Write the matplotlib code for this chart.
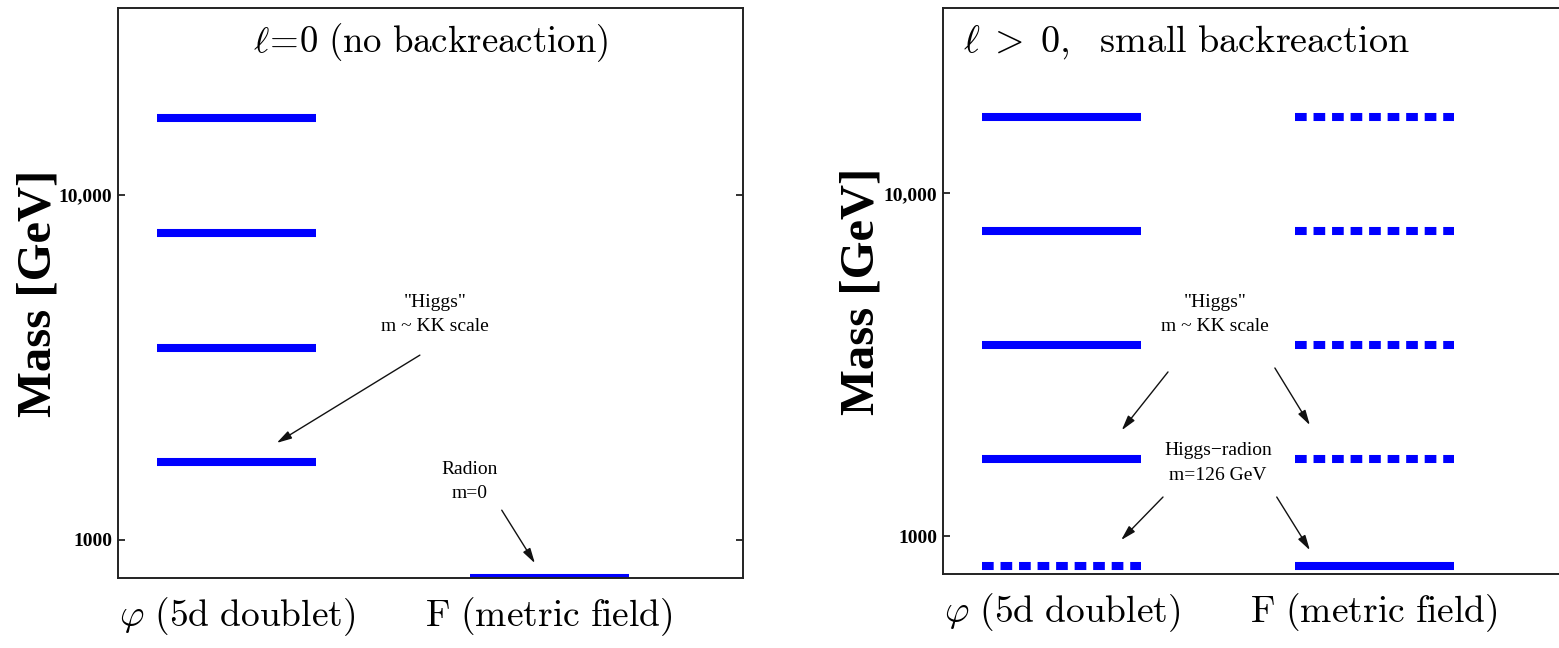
import matplotlib
matplotlib.use("Agg")
import matplotlib.pyplot as plt
from matplotlib.ticker import FixedLocator, NullLocator

plt.rcParams["mathtext.fontset"] = "cm"

# Mass spectrum values (GeV)
kk_levels = [1680, 3600, 7750, 16700]          # KK tower of the 5d doublet / metric field
radion_mass = 776                               # massless radion, pinned to axis floor
higgs_radion_mass = 818                         # light Higgs-radion state
y_limits = [776, 34700]
y_ticks = [1000, 10000]
y_tick_labels = ["1000", "10,000"]
sector_labels = [r"$\varphi\ \mathrm{(5d\ doublet)}$", r"$\mathrm{F\ (metric\ field)}$"]
sector_centers = [0.19, 0.69]
level_halfwidth = 0.127
panel_titles = [r"$\ell\!=\!0\ \mathrm{(no\ backreaction)}$",
                r"$\ell\;>\;0,\ \ \mathrm{small\ backreaction}$"]

BLUE = "#0000ff"
LW = 5.8
DASH = (0, (1.45, 0.85))
W, H = 1559, 648
fig = plt.figure(figsize=(W / 100, H / 100), dpi=100)

def px_axes(x0, x1, y0, y1):
    return fig.add_axes([x0 / W, 1 - y1 / H, (x1 - x0) / W, (y1 - y0) / H])

ax1 = px_axes(118, 743, 8, 578)
ax2 = px_axes(943, 1568, 8, 574)

def level(ax, center, mass, dashed=False):
    ls = DASH if dashed else "-"
    ax.plot([center - level_halfwidth, center + level_halfwidth], [mass, mass],
            color=BLUE, lw=LW, ls=ls, solid_capstyle="butt", dash_capstyle="butt")

def style(ax, title, tx, tsize, lpad):
    ax.set_yscale("log")
    ax.set_xlim(0, 1)
    ax.set_ylim(*y_limits)
    ax.yaxis.set_major_locator(FixedLocator(y_ticks))
    ax.yaxis.set_minor_locator(NullLocator())
    ax.set_yticklabels(y_tick_labels, fontfamily="Liberation Serif",
                       fontweight="bold", fontsize=14)
    ax.tick_params(axis="y", which="major", direction="in", length=5, width=1.3,
                   left=True, right=True, pad=4, color="#222222")
    ax.set_xticks(sector_centers)
    ax.set_xticklabels(sector_labels, fontsize=27)
    ax.tick_params(axis="x", length=0, pad=12)
    ax.set_ylabel("Mass [GeV]", fontfamily="Liberation Serif", fontweight="bold",
                  fontsize=35, labelpad=lpad)
    for s in ax.spines.values():
        s.set_linewidth(1.4)
        s.set_color("#222222")
    ax.text(tx, 0.94, title, transform=ax.transAxes, ha="center", va="center",
            fontsize=tsize)

def note(ax, x, y, s):
    ax.text(x, y, s, transform=ax.transAxes, ha="center", va="center",
            fontfamily="Liberation Serif", fontsize=14, linespacing=1.55)

def arrow(ax, tail, tip):
    ax.annotate("", xy=tip, xytext=tail, xycoords="axes fraction",
                textcoords="axes fraction",
                arrowprops=dict(arrowstyle="-|>,head_length=0.9,head_width=0.25",
                                color="#111111", lw=1.0, shrinkA=0, shrinkB=0))

# Left: no backreaction
for m in kk_levels:
    level(ax1, sector_centers[0], m)
level(ax1, sector_centers[1], radion_mass)
style(ax1, panel_titles[0], 0.5, 26.5, -1)
note(ax1, 0.507, 0.463, '"Higgs"\nm ~ KK scale')
arrow(ax1, (0.483, 0.391), (0.254, 0.237))
note(ax1, 0.563, 0.170, "Radion\nm=0")
arrow(ax1, (0.614, 0.119), (0.667, 0.026))

# Right: small backreaction
for m in kk_levels:
    level(ax2, sector_centers[0], m)
    level(ax2, sector_centers[1], m, dashed=True)
level(ax2, sector_centers[0], higgs_radion_mass, dashed=True)
level(ax2, sector_centers[1], higgs_radion_mass)
style(ax2, panel_titles[1], 0.39, 27.5, 0)
note(ax2, 0.435, 0.459, '"Higgs"\nm ~ KK scale')
arrow(ax2, (0.36, 0.357), (0.286, 0.254))
arrow(ax2, (0.531, 0.364), (0.587, 0.263))
note(ax2, 0.44, 0.196, "Higgs\u2212radion\nm=126 GeV")
arrow(ax2, (0.352, 0.136), (0.285, 0.060))
arrow(ax2, (0.534, 0.136), (0.587, 0.042))

fig.savefig("out.png", dpi=100)
